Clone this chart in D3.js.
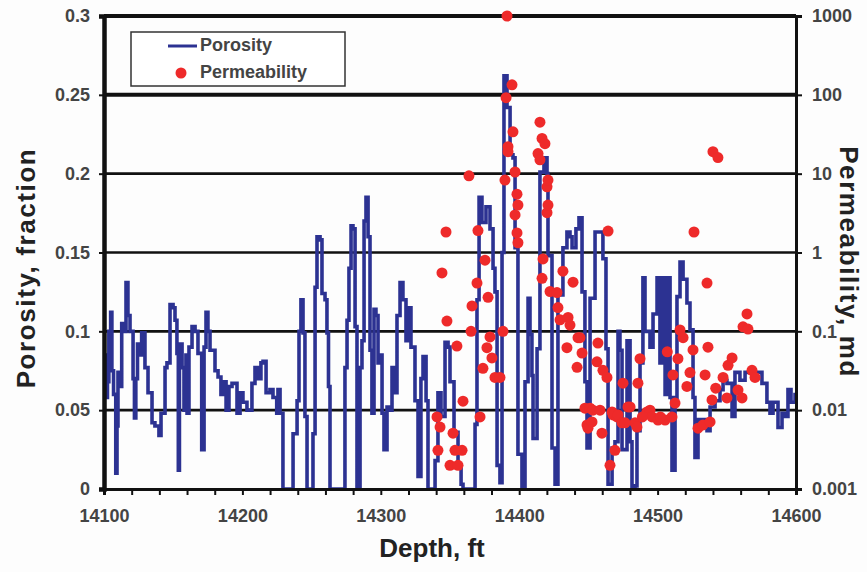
<!DOCTYPE html>
<html>
<head>
<meta charset="utf-8">
<script src="https://cdn.jsdelivr.net/npm/d3@7"></script>
<style>
  body { margin: 0; background: #fdfdfd; }
  svg { font-family: "Liberation Sans", Arial, sans-serif; }
</style>
</head>
<body>
<div id="chart"></div>
<script>
// porosity log: depth (ft) and porosity (fraction)
const porDepth = [14100,14100.7,14101.4,14102.5,14103.5,14104.8,14105.7,14106.9,14108.5,14109.4,14110.1,14111.6,14112.8,14114.4,14115.9,14117.3,14118.8,14121,14122,14123,14124.2,14126,14127.2,14129.6,14131.8,14134.7,14136.8,14139.7,14141.2,14144.1,14145.5,14147.7,14149.9,14151.3,14152.7,14153.7,14154.5,14156.4,14157.8,14159.2,14160,14161.4,14163.6,14165.8,14167.9,14170.6,14172.3,14173.7,14175.1,14176.6,14180.2,14182.4,14184.5,14186,14188.2,14190.3,14192.5,14196.1,14198.3,14200.4,14203.3,14206.9,14209.1,14211.3,14213.4,14214.9,14217.1,14219.9,14222.1,14224.8,14225.7,14227.2,14229.3,14235.8,14236.6,14239.5,14240.9,14242.3,14243.8,14245.2,14246.7,14248.8,14251,14252.5,14253.9,14256.1,14257.5,14259.7,14261.1,14262.2,14263.3,14272.7,14274.1,14275.6,14277,14278.5,14279.9,14281.4,14282.8,14283.9,14285,14286.4,14287.9,14289.3,14290.8,14292.2,14293.6,14295.1,14296.5,14298,14299.4,14300.9,14302.3,14304.5,14306.6,14308.1,14310.3,14311.7,14313.9,14316,14318.2,14320.4,14321.8,14324.7,14326.9,14329,14330.5,14332.7,14334.1,14337,14339.2,14341.3,14343.5,14346.4,14348.6,14350,14352.9,14355.8,14358,14359.4,14365.9,14368.1,14369.5,14371,14373.1,14376,14378.9,14381.1,14382.5,14384,14386.1,14387.6,14389,14391.2,14393.4,14395.5,14397,14399.1,14402,14404.2,14406.4,14407.8,14409.2,14410,14412.9,14415,14417.9,14420.1,14420.8,14423.7,14425.9,14428,14431.6,14434.5,14436.7,14438.2,14441,14443.2,14445.4,14447.5,14449,14451.2,14454.8,14457.7,14460.5,14462.7,14464.2,14467.1,14469.2,14471.4,14472.8,14474.3,14477.9,14480.1,14481.5,14483.7,14485.1,14487.3,14489.4,14490.9,14494.5,14496.7,14499.6,14501.7,14503.9,14505.4,14506.8,14509,14510.4,14512.6,14514,14516.2,14518.4,14521.2,14523.4,14525.6,14527,14529.2,14532.8,14535.7,14537.9,14541.5,14545.1,14547.3,14550.1,14553.8,14555.9,14559.5,14563.2,14566.8,14570.4,14575.4,14579,14581.2,14583.4,14587,14589.9,14592,14594.2,14596.4,14599.3];
const porosity = [0.07,0.085,0.058,0.068,0.10,0.112,0.075,0.06,0.010,0.04,0.074,0.065,0.105,0.10,0.131,0.11,0.10,0.07,0.045,0.07,0.092,0.085,0.099,0.077,0.061,0.042,0.040,0.034,0.048,0.077,0.08,0.117,0.115,0.107,0.086,0.012,0.092,0.077,0.05,0.085,0.048,0.09,0.103,0.10,0.086,0.025,0.09,0.112,0.10,0.088,0.075,0.071,0.06,0.068,0.05,0.065,0.067,0.048,0.061,0.055,0.05,0.067,0.077,0.07,0.08,0.081,0.061,0.063,0.058,0.048,0.063,0.048,0,0,0.035,0.056,0.10,0.12,0.099,0.046,0,0,0.035,0.128,0.16,0.158,0.124,0.12,0.099,0.065,0,0,0.077,0.107,0.14,0.167,0.165,0.103,0,0,0.077,0.094,0.17,0.185,0.16,0.088,0.048,0.114,0.11,0.08,0.085,0.048,0.025,0.052,0.05,0.077,0.061,0.11,0.131,0.12,0.094,0.115,0.09,0.056,0.008,0.07,0.084,0.056,0,0,0.018,0.061,0.046,0.093,0.09,0.068,0.036,0.015,0.003,0,0,0.041,0.12,0.185,0.169,0.179,0.165,0.14,0.125,0.015,0.004,0.15,0.262,0.242,0.212,0.21,0.153,0.022,0,0.068,0.121,0.098,0.072,0.032,0.089,0.201,0.21,0.2,0.148,0.026,0.003,0.123,0.153,0.163,0.16,0.153,0.165,0.172,0.125,0.068,0.026,0.121,0.163,0.163,0.146,0.089,0.003,0.026,0.03,0.1,0.088,0.025,0.094,0.03,0.001,0.002,0.037,0.08,0.134,0.1,0.09,0.111,0.134,0.08,0.134,0.06,0.134,0.058,0.012,0.058,0.122,0.144,0.133,0.118,0.101,0.058,0.02,0.044,0.044,0.037,0.052,0.056,0.063,0.069,0.067,0.046,0.074,0.069,0.074,0.075,0.074,0.067,0.055,0.048,0.055,0.039,0.048,0.046,0.063,0.055,0.061];

// core permeability: depth (ft) and permeability (md)
const permDepth = [14340.6,14341.3,14342.8,14344.2,14347.1,14347.8,14350,14352.2,14353.6,14355,14355.8,14358.7,14359.4,14363.7,14365.2,14365.9,14369.5,14370.2,14371.7,14373.8,14375.3,14376.7,14377.5,14378.9,14380.3,14382.5,14386.1,14388.3,14389.7,14390.5,14391.2,14391.9,14394.8,14395.5,14397,14398.4,14399.1,14413.6,14415,14416.5,14417.2,14418.6,14420.1,14420.8,14415,14416.5,14420.1,14420.8,14391.9,14397,14398.4,14399.1,14422.3,14427.3,14428,14429.5,14431.6,14434.5,14435.3,14436.7,14438.9,14441.8,14442.5,14443.9,14445.4,14447.5,14449,14449.7,14451.2,14452.6,14453.3,14456.2,14456.9,14458.4,14459.8,14460.5,14463.4,14464.2,14465.6,14467.1,14467.8,14469.2,14470.7,14471.4,14475,14478.6,14480.1,14483.7,14485.1,14485.8,14487.3,14492.3,14494.5,14496,14500.3,14505.4,14510.4,14511.1,14512.6,14514.7,14516.2,14518.4,14521.2,14523.4,14525.6,14526.3,14529.2,14532.8,14534.3,14535.7,14536.4,14537.9,14539.3,14540,14543.6,14547.3,14550.1,14550.9,14553.8,14558.1,14561,14561.7,14564.6,14565.3,14568.2,14570.4,14474.3,14476.5,14489,14502,14507,14542];
const permeability = [0.0082,0.0031,0.0061,0.55,1.82,0.135,0.002,0.0051,0.0031,0.065,0.002,0.0031,0.013,9.4,0.1,0.21,0.41,1.9,0.0082,0.034,0.8,0.062,0.27,0.085,0.046,0.026,0.026,0.1,8.3,92,1000,22,134,34,10.5,1.77,1.33,18,45,28,0.83,24,6.8,8.3,15,0.47,3.2,4.0,19,3.0,5.5,4.0,0.32,0.31,0.2,0.14,0.58,0.062,0.15,0.12,0.42,0.035,0.083,0.083,0.053,0.0106,0.0065,0.0059,0.0106,0.0071,0.01,0.041,0.071,0.01,0.0051,0.032,0.026,1.87,0.002,0.0095,0.0087,0.0031,0.0082,0.0087,0.022,0.011,0.011,0.0069,0.0061,0.022,0.045,0.0095,0.01,0.0082,0.0075,0.0075,0.0082,0.028,0.0123,0.045,0.104,0.083,0.02,0.03,0.058,1.82,0.0059,0.0065,0.028,0.41,0.063,0.0071,0.0135,19,16,0.026,0.0143,0.037,0.046,0.018,0.0143,0.114,0.166,0.107,0.032,0.026,0.0069,0.0069,0.0082,0.0082,0.055,0.019];

const xTicks = [14100, 14200, 14300, 14400, 14500, 14600];
const porTicks = [0, 0.05, 0.1, 0.15, 0.2, 0.25, 0.3];
const permTicks = [0.001, 0.01, 0.1, 1, 10, 100, 1000];
const permLabels = ["0.001", "0.01", "0.1", "1", "10", "100", "1000"];

const W = 867, H = 572;
const margin = { top: 16, right: 71, bottom: 83, left: 104 };
const width = W - margin.left - margin.right;
const height = H - margin.top - margin.bottom;

const svg = d3.select("#chart").append("svg")
    .attr("width", W)
    .attr("height", H);

const g = svg.append("g")
    .attr("transform", `translate(${margin.left},${margin.top})`);

const x = d3.scaleLinear().domain([14100, 14600]).range([0, width]);
const y = d3.scaleLinear().domain([0, 0.3]).range([height, 0]);
const yPerm = d3.scaleLog().domain([0.001, 1000]).range([height, 0]);

const ink = "#111";
const labelColor = "#444";

// horizontal gridlines
g.append("g")
    .selectAll("line")
    .data(porTicks.filter(t => t > 0))
    .enter()
    .append("line")
    .attr("x1", 0)
    .attr("x2", width)
    .attr("y1", d => y(d))
    .attr("y2", d => y(d))
    .attr("stroke", ink)
    .attr("stroke-width", d => (d >= 0.25 ? 4 : 2.6));

// porosity line, drawn as a stepped log trace
const line = d3.line()
    .x((d, i) => x(porDepth[i]))
    .y(d => y(d))
    .curve(d3.curveStepAfter);

g.append("path")
    .datum(porosity)
    .attr("fill", "none")
    .attr("stroke", "#2c3292")
    .attr("stroke-width", 3.6)
    .attr("d", line);

// permeability points
g.append("g")
    .selectAll("circle")
    .data(permeability)
    .enter()
    .append("circle")
    .attr("cx", (d, i) => x(permDepth[i]))
    .attr("cy", d => yPerm(d))
    .attr("r", 5.5)
    .attr("fill", "#ee2a2a");

// axes
const xAxis = g.append("g")
    .attr("transform", `translate(0,${height})`)
    .call(d3.axisBottom(x).tickValues(xTicks).tickFormat(d3.format("d")).tickSize(6).tickPadding(14));

// minor ticks every 20 ft
g.append("g")
    .attr("transform", `translate(0,${height})`)
    .call(d3.axisBottom(x).tickValues(d3.range(14120, 14600, 20).filter(v => v % 100 !== 0)).tickFormat("").tickSize(6))
    .call(a => a.select(".domain").remove());

const yAxis = g.append("g")
    .call(d3.axisLeft(y).tickValues(porTicks).tickFormat(d => d === 0 ? "0" : String(d)).tickSize(5).tickPadding(9));

const yAxisR = g.append("g")
    .attr("transform", `translate(${width},0)`)
    .call(d3.axisRight(yPerm).tickValues(permTicks).tickFormat((d, i) => permLabels[i]).tickSize(6).tickPadding(10));

[xAxis, yAxis, yAxisR].forEach(a => {
    a.selectAll("text")
        .attr("fill", labelColor)
        .style("font-size", "18px")
        .style("font-weight", "bold");
});
g.selectAll(".tick line").attr("stroke", ink).attr("stroke-width", 2);
xAxis.select(".domain").attr("stroke", ink).attr("stroke-width", 3);
yAxis.select(".domain").attr("stroke", ink).attr("stroke-width", 4.5);
yAxisR.select(".domain").attr("stroke", ink).attr("stroke-width", 3);

// axis titles
svg.append("text")
    .attr("transform", "translate(28,268) rotate(-90)")
    .attr("text-anchor", "middle")
    .attr("dominant-baseline", "middle")
    .attr("fill", "#222")
    .style("font-size", "26px")
    .style("font-weight", "bold")
    .style("letter-spacing", "1.6px")
    .text("Porosity, fraction");

svg.append("text")
    .attr("transform", "translate(847,262) rotate(90)")
    .attr("text-anchor", "middle")
    .attr("dominant-baseline", "middle")
    .attr("fill", "#222")
    .style("font-size", "26px")
    .style("font-weight", "bold")
    .style("letter-spacing", "1.6px")
    .text("Permeability, md");

svg.append("text")
    .attr("x", 432)
    .attr("y", 550)
    .attr("text-anchor", "middle")
    .attr("dominant-baseline", "middle")
    .attr("fill", "#222")
    .style("font-size", "26px")
    .style("font-weight", "bold")
    .text("Depth, ft");

// legend
const legend = svg.append("g").attr("transform", "translate(131,32)");
legend.append("rect")
    .attr("width", 214)
    .attr("height", 54)
    .attr("fill", "#fff")
    .attr("stroke", "#333")
    .attr("stroke-width", 1.5);
legend.append("line")
    .attr("x1", 37).attr("x2", 66)
    .attr("y1", 14).attr("y2", 14)
    .attr("stroke", "#2c3292")
    .attr("stroke-width", 3);
legend.append("circle")
    .attr("cx", 50).attr("cy", 41).attr("r", 5.5)
    .attr("fill", "#ee2a2a");
legend.append("text")
    .attr("x", 69).attr("y", 14)
    .attr("dominant-baseline", "middle")
    .attr("fill", labelColor)
    .style("font-size", "18px")
    .style("font-weight", "bold")
    .text("Porosity");
legend.append("text")
    .attr("x", 69).attr("y", 41)
    .attr("dominant-baseline", "middle")
    .attr("fill", labelColor)
    .style("font-size", "18px")
    .style("font-weight", "bold")
    .text("Permeability");
</script>
</body>
</html>
